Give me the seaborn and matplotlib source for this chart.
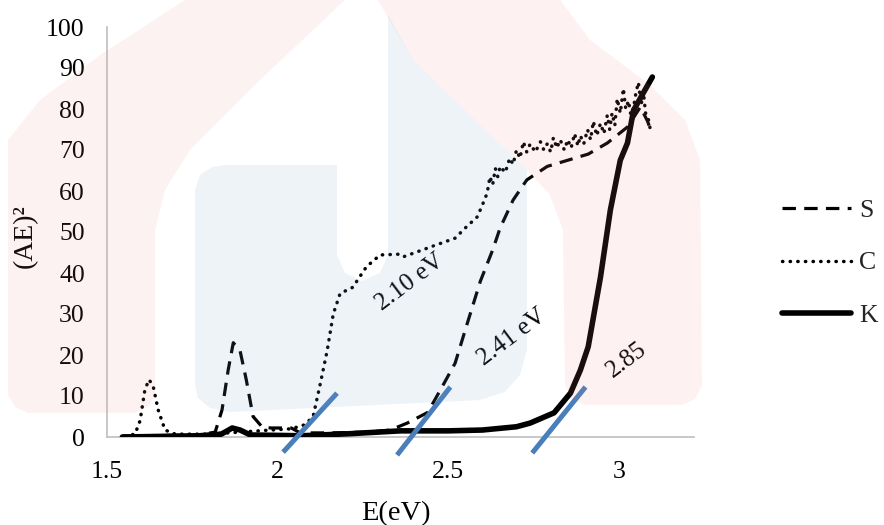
import numpy as np
import pandas as pd
import matplotlib
matplotlib.use("Agg")
import matplotlib.pyplot as plt
import seaborn as sns
from matplotlib.patches import Polygon

# ---------------- data ----------------
S_E = [1.545, 1.77, 1.817, 1.837, 1.855, 1.87, 1.89, 1.908, 1.928, 1.955, 1.98, 2.04,
       2.066, 2.154, 2.27, 2.33, 2.38, 2.44, 2.485, 2.52, 2.556, 2.594, 2.63, 2.652,
       2.69, 2.73, 2.79, 2.85, 2.91, 2.966, 3.025, 3.063, 3.084, 3.09]
S_AE2 = [0.2, 0.5, 1.2, 6.6, 16.3, 23, 21, 14, 5, 2.4, 2.2, 2.2,
         1.0, 1.0, 1.2, 1.7, 3.4, 6.0, 12.7, 18, 27.8, 38, 45.6, 51,
         57.8, 62.7, 66, 67.5, 69, 71.7, 75.6, 80.5, 77, 75.6]

C_E = [1.553, 1.582, 1.597, 1.611, 1.623, 1.635, 1.65, 1.67, 1.70, 1.80, 1.89, 1.98,
       2.04, 2.08, 2.104, 2.125, 2.145, 2.163, 2.183, 2.22, 2.26, 2.30, 2.36, 2.37,
       2.52, 2.55, 2.585, 2.60, 2.614, 2.622, 2.63, 2.638, 2.645, 2.652, 2.667, 2.68,
       2.69, 2.70, 2.71, 2.72, 2.73, 2.74, 2.755, 2.77, 2.78, 2.79, 2.80, 2.808, 2.818,
       2.828, 2.84, 2.85, 2.86, 2.87, 2.88, 2.887, 2.897, 2.908, 2.917, 2.925, 2.935,
       2.946, 2.956, 2.966, 2.973, 2.98, 2.988, 2.995, 3.004, 3.013, 3.02, 3.028, 3.035,
       3.043, 3.05, 3.057, 3.065, 3.072, 3.078, 3.084, 3.092, 3.10]
C_AE2 = [0.2, 0.7, 4, 11.5, 14, 12.5, 6.6, 1.7, 0.7, 0.7, 1.2, 1.7,
         2.0, 3.0, 5.0, 13, 21, 30, 35, 36.5, 41.5, 44.4, 44.6, 44,
         48.5, 51, 53.7, 56.6, 59.5, 63.5, 61.5, 65.5, 63.5, 66, 64.5, 68,
         66.5, 70, 68, 72, 69.5, 71.5, 69.5, 72, 70, 71.5, 69.5, 73, 70.5,
         72.5, 70, 72.5, 70.5, 74, 71, 73.5, 71.5, 75, 72.5, 77, 73.5,
         76.5, 74, 78.5, 75, 79, 76, 82.5, 79, 85, 80, 82, 78.5,
         80.5, 84, 86.5, 81, 84, 79, 78.5, 75, 74]

K_E = [1.545, 1.77, 1.835, 1.867, 1.89, 1.92, 2.07, 2.21, 2.36, 2.50, 2.60, 2.70,
       2.74, 2.81, 2.858, 2.887, 2.91, 2.946, 2.975, 3.004, 3.025, 3.043, 3.072, 3.098]
K_AE2 = [0.0, 0.3, 0.7, 2.2, 1.7, 0.5, 0.3, 0.8, 1.5, 1.5, 1.7, 2.5,
         3.4, 5.9, 10.7, 16.3, 22, 39, 55.4, 67.5, 71.7, 79.7, 84, 87.8]

# tangent (band-gap extrapolation) lines: start / end
FIT_E0 = [2.016, 2.350, 2.746]
FIT_Y0 = [-3.7, -4.4, -3.9]
FIT_E1 = [2.174, 2.506, 2.902]
FIT_Y1 = [10.7, 12.2, 12.2]

GAP_LABELS = ["2.10 eV", "2.41 eV", "2.85"]
GAP_E = [2.389, 2.688, 3.022]
GAP_Y = [37.6, 24.4, 18.8]

X_TICKS = [1.5, 2.0, 2.5, 3.0]
X_TICKLABELS = ["1.5", "2", "2.5", "3"]
Y_TICKS = list(range(0, 101, 10))

# ---------------- styling ----------------
sns.set_theme(style="white")
plt.rcParams["font.family"] = ["Liberation Serif", "DejaVu Serif"]

W, H = 884, 525
fig = plt.figure(figsize=(W / 100, H / 100), dpi=100)
fig.patch.set_facecolor("white")
ax = fig.add_axes([107 / W, 1 - 437 / H, (694 - 107) / W, (437 - 27) / H])
ax.set_facecolor("none")

df_s = pd.DataFrame({"E": S_E, "AE2": S_AE2})
df_c = pd.DataFrame({"E": C_E, "AE2": C_AE2})
df_k = pd.DataFrame({"E": K_E, "AE2": K_AE2})

sns.lineplot(data=df_s, x="E", y="AE2", ax=ax, sort=False, estimator=None,
             color="black", linewidth=2.3, linestyle=(0, (4.2, 2.6)), label="S", zorder=3)
sns.lineplot(data=df_c, x="E", y="AE2", ax=ax, sort=False, estimator=None,
             color="black", linewidth=2.5, linestyle=(0, (0.1, 2.1)),
             dash_capstyle="round", label="C", zorder=3)
sns.lineplot(data=df_k, x="E", y="AE2", ax=ax, sort=False, estimator=None,
             color="black", linewidth=4.0, linestyle="-", solid_capstyle="round",
             label="K", zorder=3)

for e0, y0, e1, y1 in zip(FIT_E0, FIT_Y0, FIT_E1, FIT_Y1):
    ax.plot([e0, e1], [y0, y1], color="#4a7ebb", linewidth=3.6,
            solid_capstyle="butt", clip_on=False, zorder=4)

for lab, e, y in zip(GAP_LABELS, GAP_E, GAP_Y):
    ax.text(e, y, lab, rotation=37, ha="center", va="center",
            rotation_mode="anchor", fontsize=18, color="black", zorder=5,
            bbox=dict(boxstyle="square,pad=0.12", fc="white", ec="none"))

ax.set_xlim(1.5, 3.22)
ax.set_ylim(0, 100)
ax.set_xticks(X_TICKS)
ax.set_xticklabels(X_TICKLABELS)
ax.set_yticks(Y_TICKS)
ax.tick_params(axis="both", length=0, labelsize=18.5, colors="black")
ax.tick_params(axis="x", pad=17)
ax.tick_params(axis="y", pad=16)
for side in ["top", "right"]:
    ax.spines[side].set_visible(False)
for side in ["left", "bottom"]:
    ax.spines[side].set_color("#bfbfbf")
    ax.spines[side].set_linewidth(1.2)

ax.set_xlabel("E(eV)", fontsize=20.5, color="black")
ax.set_ylabel("(AE)²", fontsize=20, color="black")
ax.xaxis.set_label_coords((396 - 107) / 587, (437 - 501) / 410)
ax.yaxis.set_label_coords((38 - 107) / 587, 0.49)

leg = ax.legend(loc="center left", bbox_to_anchor=(782 / W, 1 - 263 / H),
                bbox_transform=fig.transFigure, frameon=False, fontsize=18.5,
                handlelength=2.7, handletextpad=0.3, labelspacing=1.15,
                borderpad=0, borderaxespad=0)

# ---------------- faint watermark overlay ----------------
ov = fig.add_axes([0, 0, 1, 1], zorder=10)
ov.set_xlim(0, W)
ov.set_ylim(H, 0)
ov.axis("off")
ov.patch.set_alpha(0)

pink = (0.93, 0.52, 0.52)
blue = (0.46, 0.62, 0.80)
pink_left = [(8, 140), (40, 100), (100, 55), (185, 0), (345, 0), (260, 80), (190, 150),
             (165, 190), (155, 230), (155, 395), (148, 407), (135, 413), (28, 413),
             (15, 407), (8, 395)]
pink_right = [(378, 0), (560, 0), (590, 40), (650, 85), (685, 120), (700, 160),
              (702, 385), (695, 399), (682, 405), (585, 405), (572, 399), (565, 385),
              (563, 230), (550, 195), (527, 170), (413, 60)]
blue_u = [(195, 190), (200, 175), (212, 167), (225, 165), (337, 165), (337, 255),
          (345, 273), (362, 281), (380, 273), (388, 255), (388, 15), (413, 60),
          (527, 170), (527, 350), (520, 375), (505, 392), (480, 400), (230, 412),
          (210, 408), (198, 398), (195, 385)]
for pts, col, a in [(pink_left, pink, 0.10), (pink_right, pink, 0.11), (blue_u, blue, 0.12)]:
    ov.add_patch(Polygon(pts, closed=True, fc=col, ec="none", alpha=a))

fig.savefig("out.png", dpi=100)
